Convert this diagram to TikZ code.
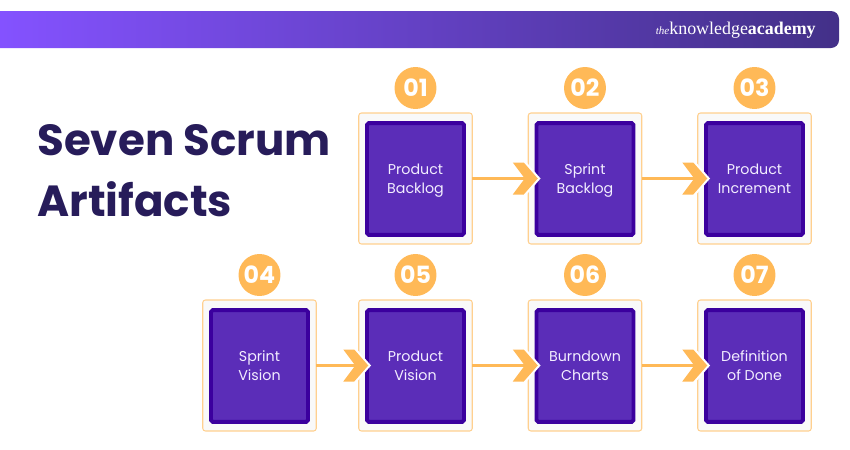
\documentclass[tikz,border=0pt]{standalone}
\usepackage{fontspec}
\setmainfont{Poppins}
\newfontfamily\logofont{Liberation Serif}
\definecolor{barleft}{HTML}{8452FF}
\definecolor{barright}{HTML}{433088}
\definecolor{titleink}{HTML}{271C5A}
\definecolor{amber}{HTML}{FFB957}
\definecolor{amberline}{HTML}{FFD08F}
\definecolor{panel}{HTML}{F9F9F9}
\definecolor{boxfill}{HTML}{5B2DB8}
\definecolor{boxline}{HTML}{3B009E}
\definecolor{boxtext}{HTML}{F3EEFF}
\newcommand{\twolines}[2]{\rule{0pt}{8.7pt}#1\\\strut #2}
\tikzset{
  outerbox/.style={draw=amberline, fill=panel, line width=0.6pt, rounded corners=1.5pt, minimum width=2.27cm, minimum height=2.62cm, outer sep=0pt},
  innerbox/.style={draw=boxline, fill=boxfill, line width=2.2pt, rounded corners=1pt, minimum width=1.94cm, minimum height=2.236cm, outer sep=0pt, text=boxtext, align=center, font=\fontsize{8.1}{10.8}\selectfont},
  badge/.style={circle, fill=amber, minimum size=0.84cm, inner sep=0pt, text=white, font=\fontsize{13.5}{13.5}\selectfont\bfseries},
  titletext/.style={anchor=base west, inner sep=0pt, text=titleink, font=\fontsize{24.8}{24.8}\selectfont\bfseries},
  flow/.style={draw=amber, line width=1.9pt},
  chevron/.pic={
    \fill[amber, draw=white, line width=2.4pt] (-13.5,-16) -- (-2.5,-16) -- (11.5,0) -- (-2.5,16) -- (-13.5,16) -- (-1.5,0) -- cycle;
    \fill[amber] (-13.5,-16) -- (-2.5,-16) -- (11.5,0) -- (-2.5,16) -- (-13.5,16) -- (-1.5,0) -- cycle;
  }
}
\begin{document}
\begin{tikzpicture}[x=0.02cm, y=-0.02cm]

\useasboundingbox (0, 0) rectangle (850, 450);

\shade[left color=barleft, right color=barright] (0, 11) -- (831, 11) to[out=0, in=90] (839, 19) -- (839, 40) to[out=-90, in=0] (831, 48) -- (0, 48) -- cycle;

\draw (816, 30) node[anchor=east, text=white, inner sep=0pt, font=\logofont\fontsize{10.2}{10.2}\selectfont] (logo){{\fontsize{6.3}{6.3}\selectfont\itshape the}knowledge\textbf{academy}};

\draw (37, 155) node[titletext] (title1){Seven Scrum};

\draw (37, 216) node[titletext] (title2){Artifacts};

% top row
\draw (415.5, 178.5) node[outerbox] (a1){};
\draw (415.5, 179) node[innerbox] (b1){\twolines{Product}{Backlog}};
\draw (415.5, 88) node[badge] (c1){01};

\draw (585, 178.5) node[outerbox] (a2){};
\draw (585, 179) node[innerbox] (b2){\twolines{Sprint}{Backlog}};
\draw (585, 88) node[badge] (c2){02};

\draw (754.5, 178.5) node[outerbox] (a3){};
\draw (754.5, 179) node[innerbox] (b3){\twolines{Product}{Increment}};
\draw (754.5, 88) node[badge] (c3){03};

% bottom row
\draw (259.5, 365.5) node[outerbox] (a4){};
\draw (259.5, 366) node[innerbox] (b4){\twolines{Sprint}{Vision}};
\draw (259.5, 275) node[badge] (c4){04};

\draw (415.5, 365.5) node[outerbox] (a5){};
\draw (415.5, 366) node[innerbox] (b5){\twolines{Product}{Vision}};
\draw (415.5, 275) node[badge] (c5){05};

\draw (585, 365.5) node[outerbox] (a6){};
\draw (585, 366) node[innerbox] (b6){\twolines{Burndown}{Charts}};
\draw (585, 275) node[badge] (c6){06};

\draw (754.5, 365.5) node[outerbox] (a7){};
\draw (754.5, 366) node[innerbox] (b7){\twolines{Definition}{of Done}};
\draw (754.5, 275) node[badge] (c7){07};

% arrows
\path (a2.west) pic[xshift=-0.04cm] {chevron};
\path (a3.west) pic[xshift=-0.04cm] {chevron};
\path (a5.west) pic[xshift=-0.04cm] {chevron};
\path (a6.west) pic[xshift=-0.04cm] {chevron};
\path (a7.west) pic[xshift=-0.04cm] {chevron};

\draw[flow] (a1.east) -- (a2.west);
\draw[flow] (a2.east) -- (a3.west);
\draw[flow] (a4.east) -- (a5.west);
\draw[flow] (a5.east) -- (a6.west);
\draw[flow] (a6.east) -- (a7.west);

\end{tikzpicture}
\end{document}
